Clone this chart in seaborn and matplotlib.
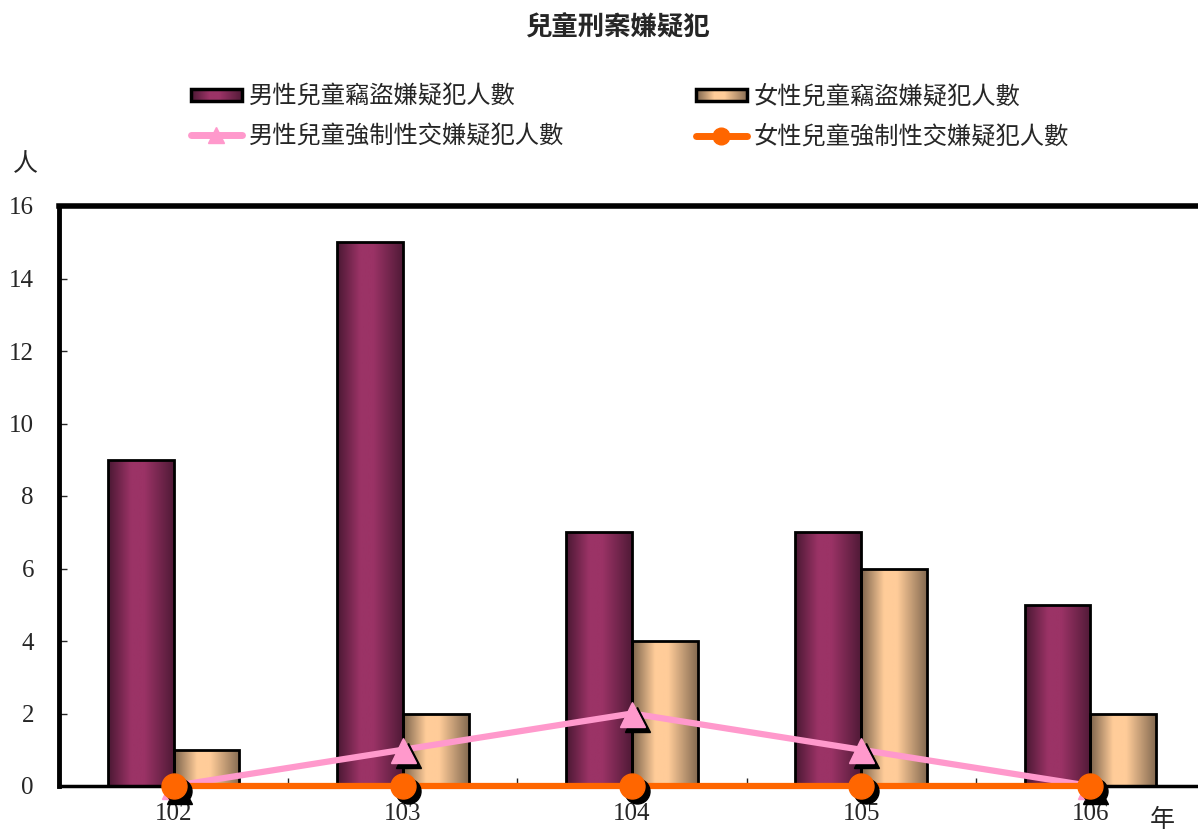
import numpy as np
import pandas as pd
import matplotlib
matplotlib.use('Agg')
import matplotlib.pyplot as plt
import matplotlib.transforms as mtransforms
from matplotlib.patches import Patch, Rectangle
from matplotlib.lines import Line2D
from matplotlib.colors import to_rgb
from matplotlib.image import BboxImage
from matplotlib.legend_handler import HandlerBase
import seaborn as sns

# data
years = ['102', '103', '104', '105', '106']
male_theft = [9, 15, 7, 7, 5]
female_theft = [1, 2, 4, 6, 2]
male_sex = [0, 1, 2, 1, 0]
female_sex = [0, 0, 0, 0, 0]

s_male_theft = '男性兒童竊盜嫌疑犯人數'
s_female_theft = '女性兒童竊盜嫌疑犯人數'
s_male_sex = '男性兒童強制性交嫌疑犯人數'
s_female_sex = '女性兒童強制性交嫌疑犯人數'

sns.set_style('white')
plt.rcParams['font.family'] = ['Liberation Serif', 'Noto Sans CJK TC', 'DejaVu Sans']

df = pd.DataFrame({
    'year': years * 2,
    'value': male_theft + female_theft,
    'series': [s_male_theft] * len(years) + [s_female_theft] * len(years),
})

# bar colours: (dark edge, bright middle)
bar_cols = {s_male_theft: ('#4a1833', '#9b3366'),
            s_female_theft: ('#7a624b', '#ffcc99')}

fig = plt.figure(figsize=(11.98, 8.32), dpi=100)
ax = fig.add_axes([59 / 1198, 1 - 786 / 832, (1205 - 59) / 1198, (786 - 206) / 832])

sns.barplot(data=df, x='year', y='value', hue='series', order=years,
            hue_order=[s_male_theft, s_female_theft],
            palette={k: v[1] for k, v in bar_cols.items()},
            width=0.574, gap=0, edgecolor='black', linewidth=2,
            legend=False, ax=ax, zorder=3)

ax.set_xlim(-0.5, len(years) - 0.5)
ax.set_ylim(0, 16)


def gradient(dark, light, n=200):
    t = np.linspace(0, 1, n)
    w = np.interp(t, [0, 0.35, 0.55, 1], [0.0, 1.0, 1.0, 0.08])
    d = np.array(to_rgb(dark))
    l = np.array(to_rgb(light))
    return (d[None, :] + w[:, None] * (l - d)[None, :])[None, :, :]


# cylinder-like shading on each bar
n = len(years)
for i, p in enumerate(list(ax.patches)):
    key = s_male_theft if i < n else s_female_theft
    x0, y0 = p.get_x(), p.get_y()
    w, h = p.get_width(), p.get_height()
    if h <= 0:
        continue
    im = ax.imshow(gradient(*bar_cols[key]), extent=[x0, x0 + w, y0, y0 + h],
                   aspect='auto', zorder=2.5, interpolation='bilinear')
    im.set_clip_path(p)
    p.set_facecolor('none')
    p.set_zorder(3)

ax.set_xlim(-0.5, len(years) - 0.5)
ax.set_ylim(0, 16)

xs = np.arange(len(years))
shadow_tr = mtransforms.offset_copy(ax.transData, fig=fig, x=5, y=-5, units='dots')

sns.lineplot(x=xs, y=male_sex, color='#ff99cc', linewidth=4.5, ax=ax, zorder=4)
ax.plot(xs, male_sex, linestyle='none', marker='^', markersize=18,
        color='black', zorder=4.5, transform=shadow_tr)
ax.plot(xs, male_sex, linestyle='none', marker='^', markersize=18,
        color='#ff99cc', zorder=5)
sns.lineplot(x=xs, y=female_sex, color='#ff6600', linewidth=4.5, ax=ax, zorder=6)
ax.plot(xs, female_sex, linestyle='none', marker='o', markersize=18,
        color='black', zorder=6.5, transform=shadow_tr)
ax.plot(xs, female_sex, linestyle='none', marker='o', markersize=18,
        color='#ff6600', zorder=7)
for l in ax.lines:
    l.set_clip_on(False)

# axes styling
for side, lw in [('left', 3.5), ('top', 4), ('bottom', 2.5), ('right', 3)]:
    ax.spines[side].set_visible(True)
    ax.spines[side].set_color('black')
    ax.spines[side].set_linewidth(lw)
    ax.spines[side].set_zorder(3.5)

ax.set_yticks(range(0, 17, 2))
ax.set_xticks(xs)
ax.set_xticklabels(years)
ax.set_xticks(np.arange(0.5, len(years) - 0.5, 1), minor=True)
ax.tick_params(axis='y', direction='in', length=6, width=1, pad=18, labelsize=18,
               left=True)
ax.tick_params(axis='x', which='major', length=0, pad=12, labelsize=18)
ax.tick_params(axis='x', which='minor', direction='in', length=6, width=1, bottom=True)
ax.set_xlabel('')
ax.set_ylabel('')

fig.text(617 / 1198, 1 - 28 / 832, '兒童刑案嫌疑犯', ha='center', va='center',
         fontsize=19, fontweight='bold', family=['Noto Sans CJK TC'])
fig.text(25 / 1198, 1 - 165 / 832, '人', ha='center', va='center', fontsize=18)
fig.text(1162 / 1198, 1 - 820 / 832, '年', ha='center', va='center', fontsize=18)


class GradientHandler(HandlerBase):
    def create_artists(self, legend, orig_handle, xdescent, ydescent,
                       width, height, fontsize, trans):
        dark, light = orig_handle.cols
        h = height * 0.75
        y0 = -ydescent + (height - h) / 2
        bb = mtransforms.TransformedBbox(
            mtransforms.Bbox.from_bounds(-xdescent, y0, width, h), trans)
        img = BboxImage(bb, interpolation='bilinear')
        img.set_data(gradient(dark, light))
        rect = Rectangle((-xdescent, y0), width, h, facecolor='none',
                         edgecolor='black', linewidth=2.5, transform=trans)
        return [img, rect]


class GradPatch(Patch):
    pass


h_mt = GradPatch()
h_mt.cols = bar_cols[s_male_theft]
h_ft = GradPatch()
h_ft.cols = bar_cols[s_female_theft]

handles = [
    h_mt,
    Line2D([], [], color='#ff99cc', linewidth=5, marker='^', markersize=12),
    h_ft,
    Line2D([], [], color='#ff6600', linewidth=5, marker='o', markersize=12),
]
labels = [s_male_theft, s_male_sex, s_female_theft, s_female_sex]
fig.legend(handles, labels, ncol=2, loc='center', bbox_to_anchor=(630 / 1198, 1 - 117 / 832),
           frameon=False, fontsize=17.5, handlelength=2.1, handleheight=0.6,
           handletextpad=0.3, columnspacing=5.4, labelspacing=0.7,
           handler_map={GradPatch: GradientHandler()})

fig.savefig('out.png', dpi=100)
